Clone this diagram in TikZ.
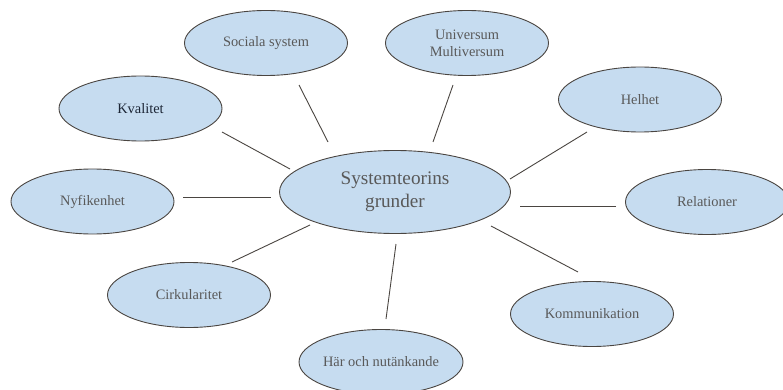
\documentclass[tikz,border=0pt]{standalone}
\usepackage{fontspec}
\setmainfont{Liberation Serif}
\usetikzlibrary{shapes.geometric,calc}
\definecolor{bubble}{HTML}{C6DCF0}
\definecolor{rim}{HTML}{4A4541}
\definecolor{txt}{HTML}{595959}
\definecolor{darktxt}{HTML}{1C2636}
\tikzset{
  bub/.style={ellipse,draw=rim,fill=bubble,line width=0.9pt,inner sep=0pt,
    minimum width=163pt,minimum height=65pt,text=txt,align=center,
    font=\fontsize{14.4}{17}\selectfont},
  bigbub/.style={bub,minimum width=231pt,minimum height=83pt,
    font=\fontsize{19.2}{23}\selectfont},
  link/.style={draw=rim,line width=0.9pt}
}
\begin{document}
\begin{tikzpicture}[x=1pt,y=-1pt]
\useasboundingbox (0,0) rectangle (783,390);
\node[bigbub] (sys) at (395,192) {Systemteorins\\grunder};
\node[bub] (soc) at (266,43) {Sociala system};
\node[bub] (uni) at (467,43) {Universum\\Multiversum};
\node[bub] (hel) at (640,99.5) {Helhet};
\node[bub,text=darktxt] (kva) at (140.5,108.5) {Kvalitet};
\node[bub] (nyf) at (92.5,201.5) {Nyfikenhet};
\node[bub] (rel) at (707,202) {Relationer};
\node[bub] (cir) at (189,295) {Cirkularitet};
\node[bub] (har) at (381,362) {Här och nutänkande};
\node[bub] (kom) at (592,314) {Kommunikation};
\draw[link] ($(soc.center)+(33,42)$) -- ($(sys.center)+(-67,-50)$);
\draw[link] ($(uni.center)+(-14,42)$) -- ($(sys.center)+(38,-50)$);
\draw[link] ($(hel.center)+(-53,32.5)$) -- ($(sys.center)+(115,-13)$);
\draw[link] ($(kva.center)+(81.5,23.5)$) -- ($(sys.center)+(-105,-23)$);
\draw[link] ($(nyf.center)+(90.5,-4.5)$) -- ($(sys.center)+(-124,5)$);
\draw[link] ($(rel.center)+(-91,4)$) -- ($(sys.center)+(125,14)$);
\draw[link] ($(cir.center)+(43,-33)$) -- ($(sys.center)+(-85,33)$);
\draw[link] ($(har.center)+(5,-43)$) -- ($(sys.center)+(1,52)$);
\draw[link] ($(kom.center)+(-14,-42)$) -- ($(sys.center)+(96,34)$);
\end{tikzpicture}
\end{document}
